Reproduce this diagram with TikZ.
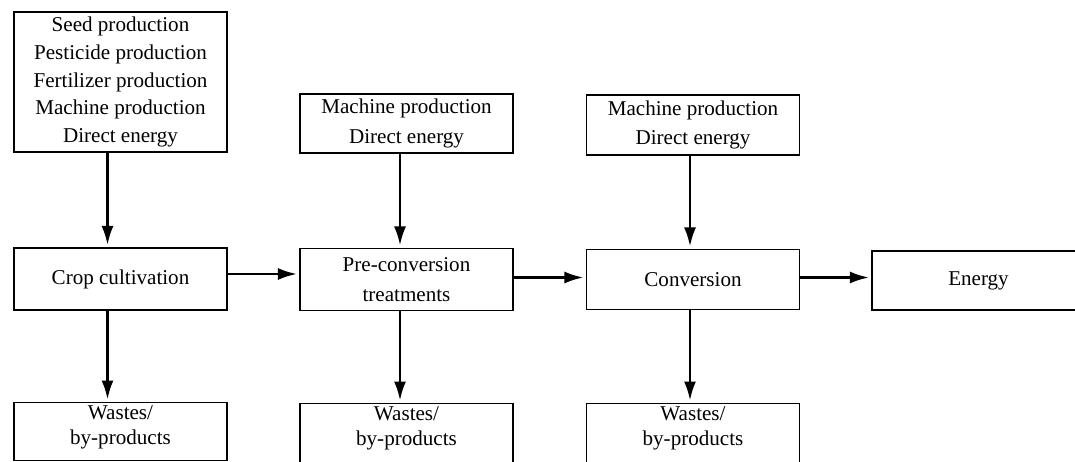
\documentclass[tikz,border=0pt]{standalone}
\usepackage{fontspec}
\setmainfont{Liberation Serif}
\usetikzlibrary{positioning,arrows.meta}
\newcommand{\wastetext}[1]{\parbox[c][#1][t]{4.2cm}{\centering\vspace{2pt}Wastes/\\[-2pt]by-products}}

\begin{document}
\begin{tikzpicture}[x=0.02cm,y=-0.02cm,
  font=\fontsize{12}{15.9}\selectfont,
  box/.style={draw,line width=0.65pt,minimum width=4.26cm,align=center,inner sep=2pt},
  wbox/.style={draw,line width=0.65pt,minimum width=4.26cm,anchor=north,inner sep=0pt},
  flow/.style={-{Latex[length=0.38cm,width=0.24cm]},line width=1.4pt,shorten >=0.05cm}]
  \useasboundingbox (0,0) rectangle (1075,462);
  \clip (0,0) rectangle (1075,462);
  % inputs
  \node[box,minimum height=2.8cm] (seed) at (120.5,82) {Seed production\\Pesticide production\\Fertilizer production\\Machine production\\Direct energy};
  \node[box,minimum height=1.18cm] (mach1) at (406.5,123.5) {Machine production\\[1pt]Direct energy};
  \node[box,minimum height=1.2cm] (mach2) at (693,125) {Machine production\\[1pt]Direct energy};
  % process chain
  \node[box,minimum height=1.24cm] (crop) at (120.5,279) {Crop cultivation};
  \node[box,minimum height=1.24cm] (pre) at (406.5,279.5) {Pre-conversion\\[1pt]treatments};
  \node[box,minimum height=1.2cm] (conv) at (693,279.5) {Conversion};
  \node[box,minimum height=1.18cm] (energy) at (978.5,280.5) {Energy};
  % wastes
  \node[wbox] (w1) at (120.5,402) {\wastetext{1.16cm}};
  \node[wbox] (w2) at (406.5,403) {\wastetext{1.4cm}};
  \node[wbox] (w3) at (693,403) {\wastetext{1.4cm}};
  % arrows down into the chain
  \draw[flow] ([xshift=-0.26cm]seed.south) -- ([xshift=-0.26cm]crop.north);
  \draw[flow] ([xshift=-0.13cm]mach1.south) -- ([xshift=-0.13cm]pre.north);
  \draw[flow] ([xshift=-0.06cm]mach2.south) -- ([xshift=-0.06cm]conv.north);
  % chain
  \draw[flow] ([yshift=0.1cm]crop.east) -- ([yshift=0.1cm]crop.east -| pre.west);
  \draw[flow] ([yshift=0.04cm]pre.east) -- ([yshift=0.04cm]pre.east -| conv.west);
  \draw[flow] ([yshift=0.04cm]conv.east) -- ([yshift=0.04cm]conv.east -| energy.west);
  % wastes
  \draw[flow] ([xshift=-0.26cm]crop.south) -- ([xshift=-0.26cm]w1.north);
  \draw[flow] ([xshift=-0.13cm]pre.south) -- ([xshift=-0.13cm]w2.north);
  \draw[flow] ([xshift=-0.06cm]conv.south) -- ([xshift=-0.06cm]w3.north);
\end{tikzpicture}
\end{document}
